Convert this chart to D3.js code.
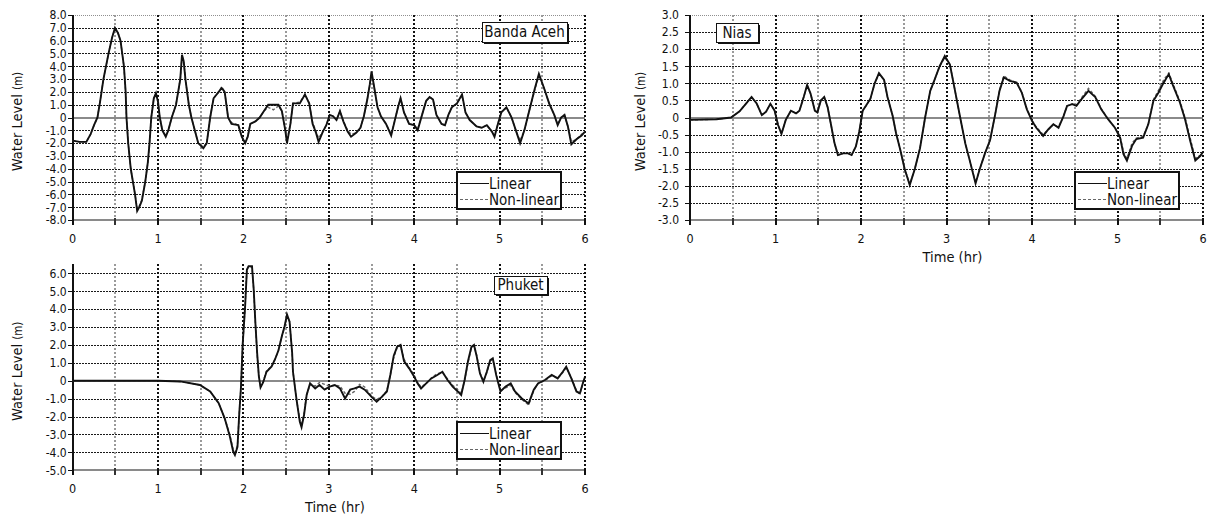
<!DOCTYPE html>
<html>
<head>
<meta charset="utf-8">
<script src="https://cdn.jsdelivr.net/npm/d3@7/dist/d3.min.js"></script>
<style>
  html, body { margin: 0; padding: 0; background: #fff; }
  svg { display: block; }
  .tick-label, .title, .legend-text, .axis-title { font-family: "Liberation Sans Narrow", "DejaVu Sans Condensed", "Liberation Sans", sans-serif; fill: #111; }
  .grid { shape-rendering: crispEdges; }
</style>
</head>
<body>
<svg id="chart" width="1208" height="519"></svg>
<script>
// ---- Banda Aceh: water level (m) vs time (hr)
const bandaTime = [0,0.08,0.16,0.21,0.25,0.29,0.32,0.36,0.42,0.46,0.495,0.53,0.56,0.6,0.62,0.63,0.65,0.68,0.73,0.755,0.78,0.81,0.85,0.88,0.9,0.92,0.95,0.975,1.0,1.02,1.05,1.09,1.12,1.16,1.21,1.26,1.28,1.3,1.32,1.36,1.39,1.43,1.47,1.53,1.57,1.61,1.65,1.71,1.745,1.78,1.8,1.82,1.86,1.94,1.98,2.02,2.05,2.08,2.14,2.19,2.24,2.29,2.35,2.41,2.45,2.49,2.51,2.55,2.58,2.66,2.72,2.77,2.81,2.85,2.88,2.93,2.97,3.01,3.05,3.09,3.13,3.17,3.22,3.26,3.32,3.37,3.41,3.45,3.48,3.5,3.53,3.57,3.61,3.67,3.73,3.77,3.81,3.84,3.88,3.94,4.0,4.04,4.1,4.14,4.18,4.22,4.26,4.32,4.36,4.4,4.44,4.5,4.56,4.6,4.65,4.73,4.79,4.85,4.91,4.94,4.98,5.02,5.08,5.14,5.2,5.24,5.29,5.35,5.41,5.46,5.52,5.58,5.64,5.68,5.72,5.76,5.8,5.84,5.9,5.96,6.0];
const bandaLinear = [-1.8,-1.9,-1.9,-1.3,-0.6,0,1.2,3.0,5.0,6.2,7.0,6.6,6.0,4.0,2.0,0,-2.0,-4.0,-6.0,-7.3,-7.0,-6.5,-5.0,-3.5,-2.0,0,1.5,1.9,1.2,0,-1.0,-1.5,-1.0,0,1.0,3.0,4.9,4.4,3.0,1.0,0,-1.0,-2.0,-2.4,-2.0,0,1.5,2.0,2.3,2.0,1.0,0,-0.5,-0.6,-1.5,-2.0,-1.5,-0.5,-0.3,0,0.5,1.0,1.0,1.0,0.5,-1.0,-2.0,-0.5,1.1,1.1,1.8,1.1,-0.5,-1.2,-1.9,-1.1,-0.6,0.2,0.1,-0.2,0.5,-0.3,-1.1,-1.5,-1.2,-0.8,0.1,1.4,2.6,3.6,2.4,0.8,0.1,-0.5,-1.4,-0.3,0.8,1.5,0.4,-0.5,-0.6,-1.0,0.4,1.3,1.6,1.4,0.2,-0.5,-0.6,0.2,0.8,1.1,1.8,0.4,-0.2,-0.7,-0.8,-0.6,-1.1,-1.5,-0.5,0.4,0.8,0.0,-1.2,-2.0,-1.0,0.6,2.2,3.4,2.3,1.1,0.2,-0.6,0.0,0.2,-0.7,-2.1,-1.7,-1.4,-1.1];
const bandaNonlinear = [-1.8,-1.9,-1.9,-1.3,-0.6,0,1.2,3.0,5.0,6.2,6.9,6.6,6.0,4.0,2.0,0,-2.0,-4.0,-6.0,-7.1,-6.9,-6.4,-5.0,-3.5,-2.0,0,1.5,1.8,1.2,0,-1.0,-1.4,-1.0,0,1.0,3.0,4.8,4.4,3.0,1.0,0,-1.0,-2.0,-2.3,-2.0,0,1.5,2.0,2.4,2.0,1.0,0,-0.4,-0.6,-1.5,-1.9,-1.5,-0.5,-0.3,0,0.5,0.8,0.6,0.9,0.5,-1.0,-1.8,-0.5,1.1,1.2,1.8,1.1,-0.4,-1.1,-1.6,-1.1,-0.6,0.2,0.1,-0.2,0.5,-0.3,-1.0,-1.3,-1.2,-0.8,0.1,1.4,2.5,3.4,2.4,0.8,0.1,-0.5,-1.3,-0.3,0.8,1.5,0.4,-0.5,-0.6,-0.9,0.4,1.3,1.6,1.4,0.2,-0.5,-0.6,0.2,0.8,1.1,1.7,0.4,-0.2,-0.7,-0.8,-0.6,-1.1,-1.4,-0.5,0.4,0.8,0.0,-1.2,-1.8,-1.0,0.6,2.1,3.3,2.3,1.1,0.2,-0.5,0.0,0.2,-0.7,-1.9,-1.7,-1.3,-1.1];
const bandaTicks = [-8,-7,-6,-5,-4,-3,-2,-1,0,1,2,3,4,5,6,7,8];

// ---- Nias
const niasTime = [0,0.31,0.48,0.58,0.66,0.72,0.78,0.84,0.89,0.94,0.99,1.03,1.07,1.12,1.18,1.24,1.28,1.33,1.37,1.41,1.46,1.49,1.53,1.57,1.61,1.65,1.69,1.73,1.79,1.85,1.89,1.94,1.98,2.02,2.06,2.11,2.16,2.21,2.27,2.31,2.37,2.41,2.46,2.51,2.57,2.63,2.69,2.75,2.81,2.86,2.92,2.98,3.04,3.1,3.16,3.22,3.27,3.34,3.39,3.45,3.51,3.57,3.62,3.67,3.74,3.82,3.88,3.94,4.0,4.05,4.13,4.19,4.25,4.31,4.37,4.41,4.47,4.52,4.58,4.66,4.74,4.81,4.89,4.97,5.03,5.07,5.11,5.17,5.22,5.3,5.36,5.42,5.48,5.54,5.6,5.65,5.73,5.79,5.85,5.91,5.97,6.0];
const niasLinear = [-0.07,-0.05,0.0,0.18,0.42,0.6,0.41,0.07,0.17,0.4,0.2,-0.22,-0.48,-0.07,0.2,0.12,0.2,0.6,0.95,0.7,0.2,0.15,0.5,0.6,0.3,-0.22,-0.75,-1.1,-1.05,-1.05,-1.1,-0.85,-0.41,0.2,0.35,0.55,1.0,1.3,1.1,0.6,0.05,-0.46,-0.95,-1.5,-1.98,-1.5,-0.9,0.0,0.78,1.1,1.5,1.8,1.55,0.78,0.0,-0.76,-1.24,-1.93,-1.5,-1.05,-0.66,0.1,0.78,1.17,1.07,1.02,0.73,0.24,-0.1,-0.3,-0.54,-0.35,-0.2,-0.3,0.05,0.34,0.39,0.34,0.54,0.78,0.6,0.24,-0.05,-0.3,-0.59,-1.07,-1.26,-0.83,-0.63,-0.59,-0.2,0.49,0.73,1.02,1.27,0.93,0.44,-0.05,-0.68,-1.26,-1.12,-1.0];
const niasNonlinear = [-0.07,-0.05,0.0,0.18,0.42,0.6,0.41,0.07,0.17,0.4,0.2,-0.22,-0.48,-0.07,0.2,0.12,0.2,0.6,0.93,0.7,0.2,0.15,0.5,0.6,0.3,-0.22,-0.75,-1.1,-1.05,-1.05,-1.1,-0.85,-0.41,0.2,0.35,0.55,1.0,1.28,1.1,0.6,0.05,-0.46,-0.95,-1.5,-1.95,-1.5,-0.9,0.0,0.78,1.1,1.5,1.75,1.55,0.78,0.0,-0.76,-1.24,-1.9,-1.5,-1.05,-0.66,0.1,0.8,1.22,1.1,1.02,0.75,0.24,-0.08,-0.28,-0.5,-0.35,-0.2,-0.28,0.05,0.34,0.4,0.36,0.58,0.85,0.62,0.26,-0.05,-0.3,-0.55,-1.0,-1.2,-0.75,-0.6,-0.55,-0.2,0.52,0.8,1.1,1.3,0.98,0.48,0.0,-0.6,-1.2,-1.1,-1.0];
const niasTicks = [-3,-2.5,-2,-1.5,-1,-0.5,0,0.5,1,1.5,2,2.5,3];

// ---- Phuket
const phuketTime = [0,1.0,1.26,1.49,1.61,1.71,1.78,1.84,1.88,1.9,1.93,1.95,1.97,1.99,2.02,2.04,2.06,2.1,2.12,2.14,2.16,2.18,2.2,2.23,2.27,2.33,2.37,2.41,2.45,2.48,2.51,2.54,2.57,2.58,2.62,2.66,2.68,2.71,2.74,2.78,2.84,2.89,2.95,3.01,3.07,3.13,3.19,3.25,3.3,3.36,3.42,3.5,3.56,3.62,3.68,3.72,3.76,3.8,3.84,3.88,3.94,4.0,4.04,4.08,4.14,4.2,4.27,4.33,4.39,4.45,4.51,4.55,4.59,4.63,4.67,4.7,4.73,4.77,4.81,4.85,4.89,4.92,4.96,5.01,5.07,5.13,5.18,5.26,5.34,5.4,5.45,5.53,5.61,5.68,5.74,5.78,5.84,5.9,5.94,5.98,6.0];
const phuketLinear = [0,0,-0.04,-0.24,-0.6,-1.26,-2.1,-3.1,-3.96,-4.15,-3.7,-1.9,-0.43,1.98,4.2,6.2,6.4,6.4,5.1,3.2,1.56,0.26,-0.38,-0.1,0.5,0.8,1.2,1.7,2.5,3.0,3.7,3.3,1.56,0.5,-1.0,-2.3,-2.6,-1.9,-0.8,-0.15,-0.43,-0.24,-0.5,-0.33,-0.24,-0.43,-0.99,-0.5,-0.43,-0.33,-0.5,-0.9,-1.17,-0.9,-0.6,0.32,1.4,1.9,2.0,1.1,0.69,0.22,-0.15,-0.43,-0.15,0.13,0.32,0.5,0.04,-0.33,-0.6,-0.8,0.04,1.1,1.9,2.0,1.4,0.4,-0.06,0.5,1.15,1.25,0.32,-0.6,-0.33,-0.15,-0.6,-0.99,-1.27,-0.5,-0.15,0.04,0.32,0.13,0.5,0.78,0.13,-0.6,-0.7,-0.06,0.22];
const phuketNonlinear = [0,0,-0.04,-0.24,-0.6,-1.26,-2.1,-3.0,-3.85,-4.0,-3.6,-1.9,-0.43,1.9,4.2,6.2,6.4,6.35,5.1,3.2,1.5,0.26,-0.3,-0.05,0.55,0.8,1.2,1.7,2.5,3.0,3.6,3.3,1.6,0.5,-1.0,-2.2,-2.4,-1.8,-0.8,-0.2,-0.3,-0.1,-0.2,-0.3,-0.25,-0.3,-0.7,-0.75,-0.6,-0.2,-0.35,-0.85,-1.05,-0.9,-0.55,0.3,1.3,1.85,1.95,1.2,0.75,0.3,-0.1,-0.35,-0.15,0.15,0.4,0.45,0.1,-0.25,-0.5,-0.7,0.0,1.0,1.85,1.95,1.45,0.45,0.0,0.45,1.1,1.2,0.35,-0.55,-0.4,-0.25,-0.65,-1.05,-1.35,-0.55,-0.15,0.0,0.3,0.15,0.45,0.75,0.15,-0.55,-0.75,-0.1,0.15];
const phuketTicks = [-5,-4,-3,-2,-1,0,1,2,3,4,5,6];

const hourTicks = [0, 1, 2, 3, 4, 5, 6];
const halfHourGrid = [0.5, 1, 1.5, 2, 2.5, 3, 3.5, 4, 4.5, 5, 5.5, 6];
const seriesNames = ["Linear", "Non-linear"];

const svg = d3.select("#chart");

const panels = [
  { name: "Banda Aceh", time: bandaTime, linear: bandaLinear, nonlinear: bandaNonlinear,
    ticks: bandaTicks, ymin: -8, ymax: 8, left: 72.7, right: 585, top: 15, bottom: 220,
    topLine: true, titleBox: { x: 482, y: 22, w: 85, h: 20 }, tickGap: 6, ylabelX: 22, showTimeTitle: false },
  { name: "Nias", time: niasTime, linear: niasLinear, nonlinear: niasNonlinear,
    ticks: niasTicks, ymin: -3, ymax: 3, left: 690, right: 1203, top: 15, bottom: 220,
    topLine: true, titleBox: { x: 716, y: 23, w: 42, h: 19 }, tickGap: 11, ylabelX: 645, showTimeTitle: true },
  { name: "Phuket", time: phuketTime, linear: phuketLinear, nonlinear: phuketNonlinear,
    ticks: phuketTicks, ymin: -5, ymax: 6.5, left: 72.7, right: 585, top: 264.4, bottom: 470.2,
    topLine: false, titleBox: { x: 494, y: 276, w: 53, h: 18 }, tickGap: 6, ylabelX: 22, showTimeTitle: true }
];

function fmt(v) { return v === 0 ? "0" : v.toFixed(1); }
// pixel snapping for crisp 1px and 2px rules
const s1 = v => Math.round(v) + 0.5;
const s2 = v => Math.round(v);

panels.forEach(p => {
  const x = d3.scaleLinear().domain([0, 6]).range([p.left, p.right]);
  const y = d3.scaleLinear().domain([p.ymin, p.ymax]).range([p.bottom, p.top]);
  const g = svg.append("g");

  // horizontal grid lines at y ticks
  p.ticks.forEach(v => {
    if (v === p.ymin) return;
    let stroke = "#1a1a1a", dash = "2,1", w = 1, yy = s1(y(v));
    if (v === 0) { stroke = "#8a8a8a"; dash = null; w = 2; yy = s2(y(v)); }
    if (v === p.ymax && p.topLine) { stroke = "#8f8f8f"; dash = "1,1"; }
    g.append("line").attr("class", "grid")
      .attr("x1", x(0)).attr("x2", x(6))
      .attr("y1", yy).attr("y2", yy)
      .attr("stroke", stroke).attr("stroke-width", w)
      .attr("stroke-dasharray", dash);
  });

  // vertical grid lines every half hour
  halfHourGrid.forEach(t => {
    const whole = Number.isInteger(t);
    g.append("line").attr("class", "grid")
      .attr("x1", s2(x(t))).attr("x2", s2(x(t)))
      .attr("y1", y(p.ymax)).attr("y2", y(p.ymin))
      .attr("stroke", whole ? "#111" : "#9a9a9a")
      .attr("stroke-width", 2)
      .attr("stroke-dasharray", "2,2");
  });

  // bottom axis line
  g.append("line").attr("class", "grid")
    .attr("x1", x(0)).attr("x2", x(6))
    .attr("y1", s2(y(p.ymin))).attr("y2", s2(y(p.ymin)))
    .attr("stroke", "#8a8a8a").attr("stroke-width", 2);

  // x tick marks (every half hour)
  [0].concat(halfHourGrid).forEach(t => {
    g.append("line").attr("class", "grid")
      .attr("x1", s2(x(t))).attr("x2", s2(x(t)))
      .attr("y1", y(p.ymin) - 2).attr("y2", y(p.ymin) + 5)
      .attr("stroke", Number.isInteger(t) ? "#111" : "#333")
      .attr("stroke-width", 2);
  });

  // x tick labels
  hourTicks.forEach(t => {
    g.append("text").attr("class", "tick-label")
      .attr("x", x(t)).attr("y", y(p.ymin) + 23)
      .attr("text-anchor", "middle").attr("font-size", 12.5)
      .text(t);
  });

  // y ticks + labels
  p.ticks.forEach(v => {
    g.append("line").attr("class", "grid")
      .attr("x1", x(0) - 5).attr("x2", x(0))
      .attr("y1", s1(y(v))).attr("y2", s1(y(v)))
      .attr("stroke", "#111").attr("stroke-width", 1);
    g.append("text").attr("class", "tick-label")
      .attr("x", x(0) - p.tickGap).attr("y", y(v))
      .attr("dy", "0.36em")
      .attr("text-anchor", "end").attr("font-size", 12)
      .text(fmt(v));
  });

  // left axis
  g.append("line").attr("class", "grid")
    .attr("x1", s2(x(0))).attr("x2", s2(x(0)))
    .attr("y1", y(p.ymax)).attr("y2", y(p.ymin) + 2)
    .attr("stroke", "#111").attr("stroke-width", 2);

  // y axis title
  const yc = (p.top + p.bottom) / 2 + 4;
  const yt = g.append("text").attr("class", "axis-title")
    .attr("transform", `translate(${p.ylabelX},${yc}) rotate(-90)`)
    .attr("text-anchor", "middle").attr("font-size", 14.5);
  yt.append("tspan").text("Water Level ");
  yt.append("tspan").attr("font-size", 11.5).text("(m)");

  if (p.showTimeTitle) {
    g.append("text").attr("class", "axis-title")
      .attr("x", (x(0) + x(6)) / 2 + 6).attr("y", y(p.ymin) + 42)
      .attr("text-anchor", "middle").attr("font-size", 14.5)
      .text("Time (hr)");
  }

  // curves
  const line = d3.line().x((d, i) => x(p.time[i])).y(d => y(d));
  g.append("path").datum(p.nonlinear)
    .attr("d", line).attr("fill", "none")
    .attr("stroke", "#666").attr("stroke-width", 1.4)
    .attr("stroke-dasharray", "3,2");
  g.append("path").datum(p.linear)
    .attr("d", line).attr("fill", "none")
    .attr("stroke", "#111").attr("stroke-width", 1.9);

  // location title box with shadow
  const tb = p.titleBox;
  g.append("rect").attr("class", "grid").attr("x", tb.x + 2).attr("y", tb.y + 2)
    .attr("width", tb.w).attr("height", tb.h).attr("fill", "#111");
  g.append("rect").attr("class", "grid").attr("x", tb.x + 0.5).attr("y", tb.y + 0.5)
    .attr("width", tb.w).attr("height", tb.h)
    .attr("fill", "#fff").attr("stroke", "#111").attr("stroke-width", 1);
  g.append("text").attr("class", "title")
    .attr("x", tb.x + tb.w / 2).attr("y", tb.y + tb.h / 2)
    .attr("dy", "0.36em").attr("text-anchor", "middle").attr("font-size", 15)
    .text(p.name);

  // legend
  const lw = 104, lh = 37;
  const lx = Math.round(x(6) - 24 - lw), ly = Math.round(y(p.ymin) - 11 - lh);
  g.append("rect").attr("class", "grid").attr("x", lx).attr("y", ly).attr("width", lw).attr("height", lh)
    .attr("fill", "#fff").attr("stroke", "#111").attr("stroke-width", 2);
  seriesNames.forEach((s, i) => {
    const yy = ly + 11.5 + i * 16;
    g.append("line").attr("x1", lx + 3).attr("x2", lx + 32)
      .attr("y1", yy).attr("y2", yy)
      .attr("stroke", i === 0 ? "#111" : "#666")
      .attr("stroke-width", 1)
      .attr("stroke-dasharray", i === 0 ? null : "3,2");
    g.append("text").attr("class", "legend-text")
      .attr("x", lx + 32).attr("y", yy).attr("dy", "0.36em")
      .attr("font-size", 15).text(s);
  });
});
</script>
</body>
</html>
